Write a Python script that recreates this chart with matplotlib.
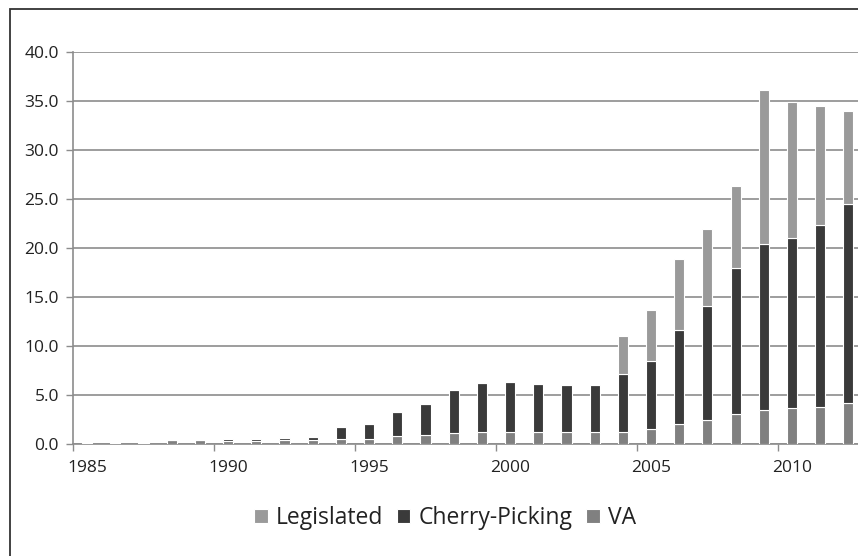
import numpy as np
import matplotlib
matplotlib.use('Agg')
import matplotlib.pyplot as plt
from matplotlib.patches import Rectangle

years = list(range(1985, 2013))
va = [0.05, 0.05, 0.05, 0.35, 0.35, 0.3, 0.3, 0.35, 0.35, 0.5,
      0.5, 0.75, 0.9, 1.1, 1.15, 1.15, 1.15, 1.2, 1.2, 1.2,
      1.5, 1.95, 2.4, 3.0, 3.4, 3.6, 3.7, 4.1]
# running top of cherry-picking (va + cp)
cp_top = [0.05, 0.05, 0.05, 0.35, 0.35, 0.45, 0.5, 0.6, 0.7, 1.7,
          2.0, 3.2, 4.0, 5.5, 6.2, 6.3, 6.1, 5.95, 5.95, 7.1,
          8.4, 11.6, 14.0, 17.9, 20.4, 21.0, 22.3, 24.5]
total = [0.05, 0.05, 0.05, 0.35, 0.35, 0.45, 0.5, 0.6, 0.7, 1.7,
         2.0, 3.2, 4.0, 5.5, 6.2, 6.3, 6.1, 5.95, 5.95, 11.0,
         13.6, 18.8, 21.9, 26.3, 36.1, 34.9, 34.5, 34.0]
yticks = [0, 5, 10, 15, 20, 25, 30, 35, 40]
xlabels = [1985, 1990, 1995, 2000, 2005, 2010]

va = np.array(va)
cp = np.array(cp_top) - va
leg = np.array(total) - np.array(cp_top)
x = np.array(years)

plt.rcParams['font.family'] = ['Open Sans', 'DejaVu Sans']
fig = plt.figure(figsize=(8.58, 5.56), dpi=100)
W, H = 858.0, 556.0

# outer chart frame (cropped on right/bottom)
fig.patches.append(Rectangle((10 / W, -0.1), 1.2, 1 - 9 / H + 0.1,
                             transform=fig.transFigure, fill=False,
                             edgecolor='#333333', linewidth=1.3))

left, right = 73, 862.5
bottom, top = 443.5, 52
ax = fig.add_axes([left / W, 1 - bottom / H, (right - left) / W, (bottom - top) / H])

c_va, c_cp, c_leg = '#808080', '#3a3a3a', '#9a9a9a'
w = 0.36
ax.bar(x, va, w, color=c_va, edgecolor='white', linewidth=0.8, label='VA', zorder=3)
ax.bar(x, cp, w, bottom=va, color=c_cp, edgecolor='white', linewidth=0.8,
       label='Cherry-Picking', zorder=3)
ax.bar(x, leg, w, bottom=va + cp, color=c_leg, edgecolor='white', linewidth=0.8,
       label='Legislated', zorder=3)

ax.set_xlim(1984.5, 2012.5)
ax.set_ylim(0, 40)
ax.set_yticks(yticks)
ax.set_yticklabels(['%.1f' % v for v in yticks])
ax.yaxis.grid(True, color='#8c8c8c', linewidth=1.2, zorder=0)
ax.set_axisbelow(True)

ax.set_xticks(xlabels)
ax.set_xticklabels([str(v) for v in xlabels])
ax.set_xticks(np.arange(1984.5, 2013, 5), minor=True)
ax.tick_params(axis='x', which='major', length=0, pad=12, labelsize=12.5, labelcolor='#222222')
ax.tick_params(axis='x', which='minor', length=5, color='#8c8c8c', width=1)
ax.tick_params(axis='y', length=5, color='#8c8c8c', width=1, labelsize=12.5,
               labelcolor='#222222', pad=5)

for s in ['top', 'right']:
    ax.spines[s].set_visible(False)
for s in ['left', 'bottom']:
    ax.spines[s].set_color('#8c8c8c')
    ax.spines[s].set_linewidth(1.2)

h, l = ax.get_legend_handles_labels()
fig.legend(h[::-1], l[::-1], loc='center', bbox_to_anchor=(445 / W, 1 - 518 / H),
           ncol=3, frameon=False, fontsize=16.5, handlelength=0.6, handleheight=0.6,
           handletextpad=0.35, columnspacing=0.6, labelcolor='#222222')

fig.savefig('out.png', dpi=100)
